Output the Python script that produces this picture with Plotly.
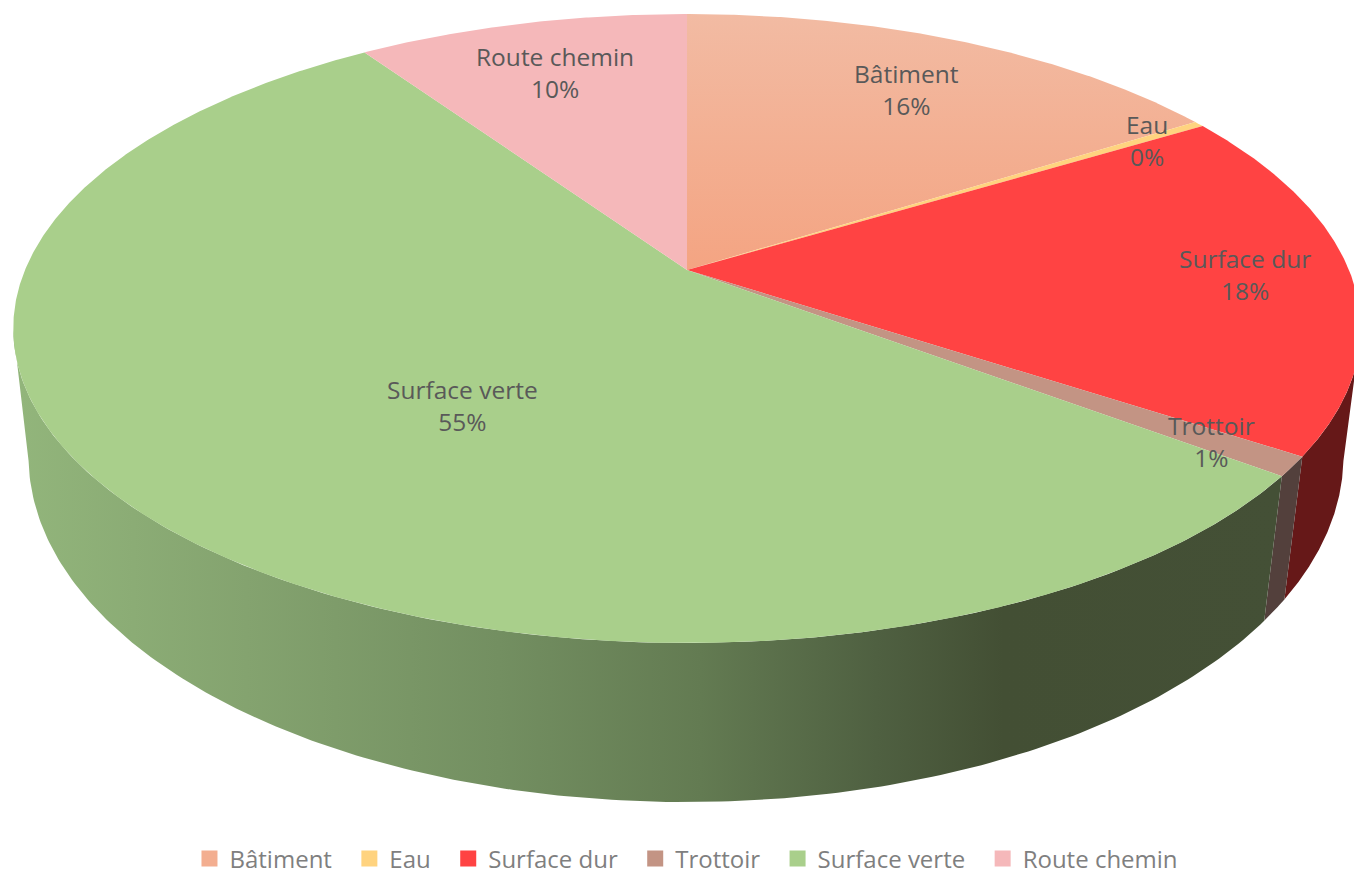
import numpy as np
import plotly.graph_objects as go

# ---- data ----
categories = ["Bâtiment", "Eau", "Surface dur", "Trottoir", "Surface verte", "Route chemin"]
values = [16.0, 0.3, 18.0, 1.0, 55.2, 9.5]
percent_labels = ["16%", "0%", "18%", "1%", "55%", "10%"]
top_colors = ["#F3AE90", "#FFD37F", "#FF4343", "#C39484", "#A9CF8B", "#F5B8BA"]

# ---- style / layout constants ----
TOP = dict(cx=687, cy=270, a=662, b=0.186, c=303.6)
BOTTOM = dict(cx=686, cy=394.5, a=647, b=0.178, c=335)
LABEL_XY = [(906, 89), (1147, 140), (1245, 274), (1211, 441), (462, 405), (555, 72)]
SIDE_LIMITS = (101.0, 259.0)
TEXT = "#595959"
FONT = "Open Sans"
LEGEND_PAD = "\u00a0\u00a0"
SIDE = {
    "Surface dur": "#661818",
    "Trottoir": "#53403C",
}
GREEN_SIDE = [[0, "#92B57B"], [0.18, "#84A36F"], [0.38, "#738F61"], [0.54, "#637B52"],
              [0.68, "#4F6041"], [0.78, "#434F34"], [1, "#445036"]]
GRADIENTS = {
    "Bâtiment": [[0, "#F2BBA3"], [1, "#F4A482"]],
}


def project(theta_deg, p, r=1.0):
    t = np.radians(theta_deg)
    X, Y = r * np.sin(t), r * np.cos(t)
    d = 1 + p["b"] * Y
    return p["cx"] + p["a"] * X / d, p["cy"] - p["c"] * Y / d


edges = np.concatenate([[0], np.cumsum(values)]) / sum(values) * 360
fig = go.Figure()

# sides
for i, name in enumerate(categories):
    t0 = max(edges[i], SIDE_LIMITS[0])
    t1 = min(edges[i + 1], SIDE_LIMITS[1])
    if t1 <= t0:
        continue
    th = np.linspace(t0, t1, 200)
    xa, ya = project(th, TOP)
    xb, yb = project(th[::-1], BOTTOM)
    kw = dict(x=np.concatenate([xa, xb]), y=np.concatenate([ya, yb]), mode="lines",
              line=dict(width=0), fill="toself", showlegend=False, hoverinfo="skip")
    if name == "Surface verte":
        kw["fillgradient"] = dict(type="horizontal", colorscale=GREEN_SIDE, start=20, stop=1280)
    else:
        kw["fillcolor"] = SIDE.get(name, top_colors[i])
    fig.add_trace(go.Scatter(**kw))

# top faces
for i, name in enumerate(categories):
    th = np.linspace(edges[i], edges[i + 1], max(3, int(edges[i + 1] - edges[i]) * 4))
    xa, ya = project(th, TOP)
    kw = dict(x=np.concatenate([[TOP["cx"]], xa, [TOP["cx"]]]),
              y=np.concatenate([[TOP["cy"]], ya, [TOP["cy"]]]),
              mode="lines", line=dict(width=0), fill="toself", showlegend=False,
              name=name, hoverinfo="skip")
    if name in GRADIENTS:
        kw["fillgradient"] = dict(type="vertical", colorscale=GRADIENTS[name], start=14, stop=270)
    else:
        kw["fillcolor"] = top_colors[i]
    fig.add_trace(go.Scatter(**kw))

# legend entries
for i, name in enumerate(categories):
    fig.add_trace(go.Scatter(x=[None], y=[None], mode="markers",
                             name=name + (LEGEND_PAD if i < len(categories) - 1 else ""),
                             marker=dict(symbol="square", size=16, color=top_colors[i])))

# data labels
for i, name in enumerate(categories):
    fig.add_annotation(x=LABEL_XY[i][0], y=LABEL_XY[i][1], text=f"{name}<br>{percent_labels[i]}",
                       showarrow=False, font=dict(family=FONT, size=24.5, color=TEXT), align="center")

fig.update_layout(
    width=1354, height=878, margin=dict(l=0, r=0, t=0, b=0, autoexpand=False),
    paper_bgcolor="white", plot_bgcolor="white",
    xaxis=dict(range=[0, 1354], visible=False, fixedrange=True),
    yaxis=dict(range=[878, 0], visible=False, fixedrange=True),
    legend=dict(orientation="h", x=0.507, xanchor="center", y=-0.004, yanchor="bottom",
                font=dict(family=FONT, size=24, color="#7F7F7F"), bgcolor="rgba(0,0,0,0)",
                itemclick=False, itemdoubleclick=False),
    showlegend=True,
)
fig.write_html("out.html", post_script="document.body.style.margin='0';",
               config=dict(displayModeBar=False))
